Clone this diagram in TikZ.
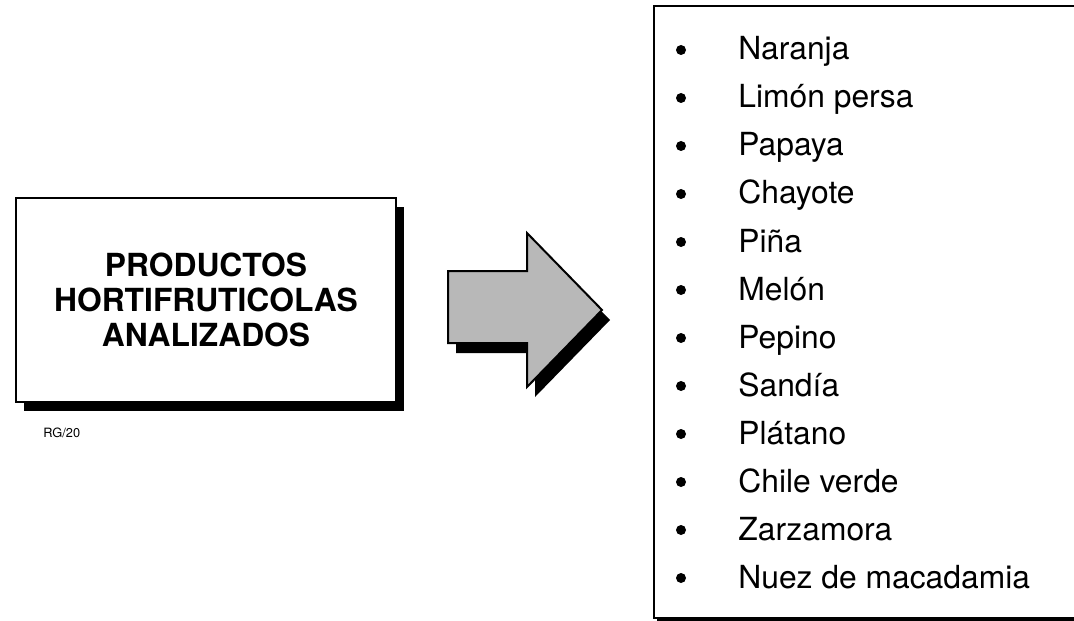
\documentclass[tikz,border=0pt]{standalone}
\usepackage{fontspec}
\setmainfont{TeX Gyre Heros}
\usetikzlibrary{shadows}

\begin{document}
\begin{tikzpicture}[x=0.5pt, y=-0.5pt,
    titlebox/.style={draw, line width=1pt, fill=white, minimum width=190pt, minimum height=102pt,
      align=center, font=\fontsize{15.9}{17.5}\selectfont\bfseries,
      drop shadow={fill=black, opacity=1, shadow xshift=4pt, shadow yshift=-4.5pt}},
    listbox/.style={draw, line width=1.2pt, fill=white, minimum width=230pt, minimum height=306pt,
      drop shadow={fill=black, opacity=1, shadow xshift=1.5pt, shadow yshift=-1.2pt}},
    bala/.style={circle, fill=black, inner sep=0pt, minimum size=5pt},
    item/.style={anchor=base west, inner sep=0pt, font=\fontsize{15.9}{18}\selectfont}]
    \useasboundingbox (0,0) rectangle (1074,620);

    % left box
    \node[titlebox] (titulo) at (206,300) {PRODUCTOS\\HORTIFRUTICOLAS\\ANALIZADOS};
    \node[anchor=base west, inner sep=0pt, font=\fontsize{6.4}{7}\selectfont] (codigo) at (43,437) {RG/20};

    % arrow with shadow
    \fill[black] (456,281) -- (535,281) -- (535,243) -- (610,320) -- (535,397) -- (535,353) -- (456,353) -- cycle;
    \draw[line width=1pt, fill=black!28] (448,271) -- (527,271) -- (527,233) -- (602,310)
      -- (527,387) -- (527,343) -- (448,343) -- cycle;

    % list box
    \node[listbox, anchor=north west] (lista) at (653,5) {};
    \foreach \fruta [count=\i] in {Naranja, Lim\'on persa, Papaya, Chayote, Pi\~na, Mel\'on,
        Pepino, Sand\'ia, Pl\'atano, Chile verde, Zarzamora, Nuez de macadamia} {
      \node[bala] (bala\i) at (681,{50+48*(\i-1)}) {};
      \node[item] (fruta\i) at (738,{60+48*(\i-1)}) {\fruta};
    }
  \end{tikzpicture}
\end{document}
